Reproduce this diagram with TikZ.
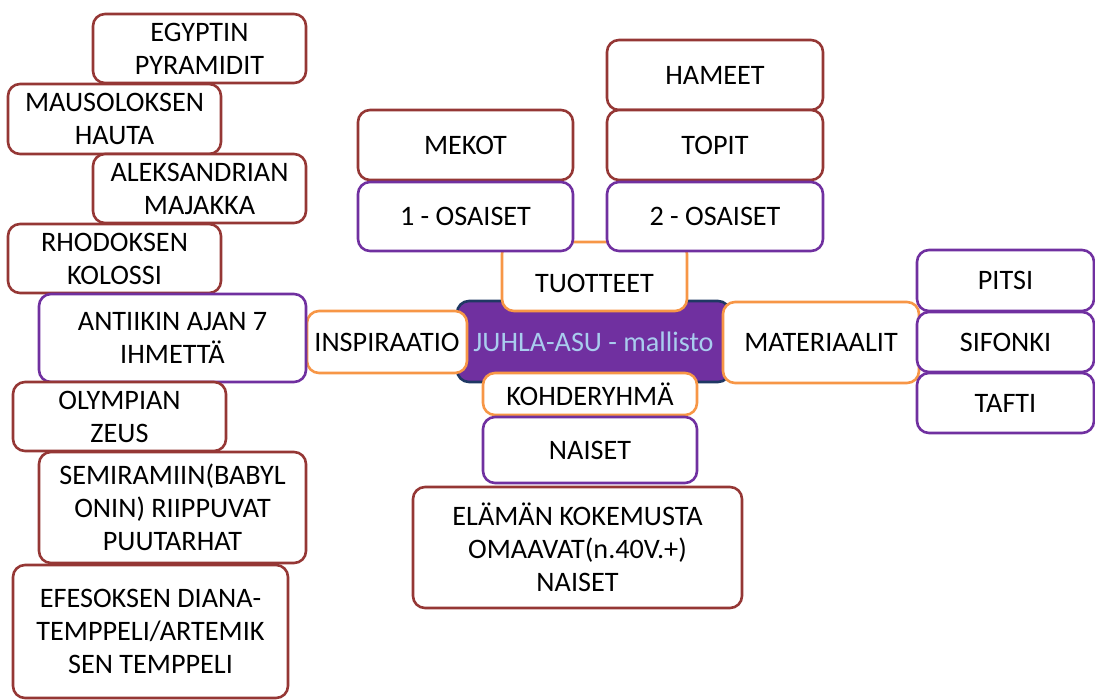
\documentclass[tikz,border=0pt]{standalone}
\usepackage{fontspec}
\setmainfont{Carlito}
\definecolor{boxRed}{HTML}{953735}
\definecolor{boxPurple}{HTML}{7030A0}
\definecolor{boxOrange}{HTML}{F79646}
\definecolor{hubBorder}{HTML}{1F3864}
\definecolor{hubText}{HTML}{A9CDEE}
\tikzset{
  box/.style={draw, fill=white, rounded corners=12pt, line width=2.6pt,
    align=center, inner sep=0pt, font=\fontsize{28.2}{33}\selectfont},
  redbox/.style={box, draw=boxRed},
  purplebox/.style={box, draw=boxPurple},
  orangebox/.style={box, draw=boxOrange},
  dims/.style 2 args={minimum width=#1pt, minimum height=#2pt}
}

\begin{document}
\begin{tikzpicture}[x=1pt,y=-1pt]
  \useasboundingbox (0,0) rectangle (1095,699);

  % keskus
  \node[box, fill=boxPurple, draw=hubBorder, text=hubText, dims={273}{81}] (juhla) at (593.5,341.5) {JUHLA-ASU - mallisto};

  % tuotteet
  \node[orangebox, dims={185}{69}, text height=31pt, text depth=0pt] (tuotteet) at (594.5,276.5) {TUOTTEET};
  \node[redbox, dims={215}{70}] (mekot) at (465.5,145) {MEKOT};
  \node[purplebox, dims={215}{69}] (osa1) at (465.5,216.5) {1 - OSAISET};
  \node[redbox, dims={216}{70}] (hameet) at (715,75) {HAMEET};
  \node[redbox, dims={216}{70}] (topit) at (715,145) {TOPIT};
  \node[purplebox, dims={216}{69}] (osa2) at (715,216.5) {2 - OSAISET};

  % materiaalit
  \node[orangebox, dims={196}{81}] (materiaalit) at (821,342.5) {MATERIAALIT};
  \node[purplebox, dims={177}{61}] (pitsi) at (1005.5,280.5) {PITSI};
  \node[purplebox, dims={177}{60}] (sifonki) at (1005.5,342) {SIFONKI};
  \node[purplebox, dims={177}{60}] (tafti) at (1005.5,403) {TAFTI};

  % kohderyhma
  \node[orangebox, dims={214}{42}] (kohde) at (590,394) {KOHDERYHMÄ};
  \node[purplebox, dims={214}{66}] (naiset) at (590,450) {NAISET};
  \node[redbox, dims={329}{121}] (kokeneet) at (577.5,547.5) {ELÄMÄN KOKEMUSTA\\OMAAVAT(n.40V.+)\\NAISET};

  % inspiraatio
  \node[orangebox, dims={160}{62}] (inspiraatio) at (387,342) {INSPIRAATIO};
  \node[redbox, dims={213}{69}] (egypti) at (199.5,48.5) {EGYPTIN\\PYRAMIDIT};
  \node[redbox, dims={213}{70}] (mausoleum) at (114.5,119) {MAUSOLOKSEN\\HAUTA};
  \node[redbox, dims={213}{69}] (majakka) at (199.5,188.5) {ALEKSANDRIAN\\MAJAKKA};
  \node[redbox, dims={213}{69}] (kolossi) at (114.5,258.5) {RHODOKSEN\\KOLOSSI};
  \node[purplebox, dims={267}{88}] (ihmeet) at (172.5,338) {ANTIIKIN AJAN 7\\IHMETTÄ};
  \node[redbox, dims={213}{69}] (zeus) at (119.5,416.5) {OLYMPIAN\\ZEUS};
  \node[redbox, dims={267}{111}] (puutarhat) at (172.5,507.5) {SEMIRAMIIN(BABYL\\ONIN) RIIPPUVAT\\PUUTARHAT};
  \node[redbox, dims={275}{133}] (temppeli) at (150.5,631.5) {EFESOKSEN DIANA-\\TEMPPELI/ARTEMIK\\SEN TEMPPELI};

\end{tikzpicture}
\end{document}
